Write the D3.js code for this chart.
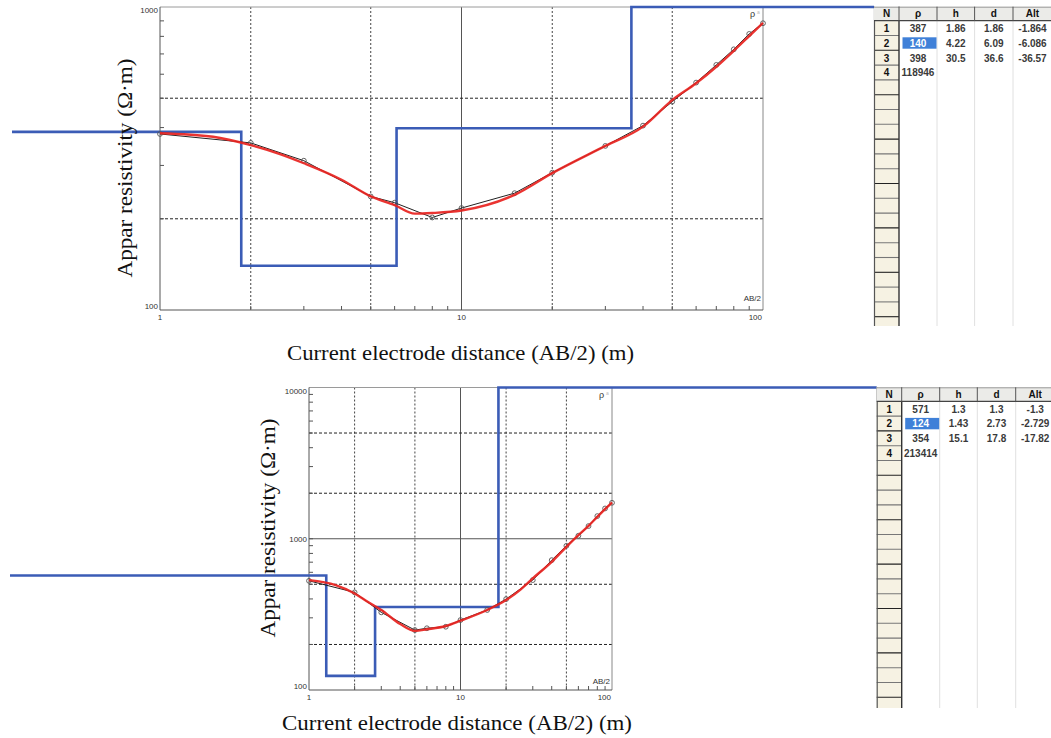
<!DOCTYPE html>
<html>
<head>
<meta charset="utf-8">
<script src="https://cdn.jsdelivr.net/npm/d3@7"></script>
<style>
  body { margin: 0; background: #fff; }
  svg { display: block; }
</style>
</head>
<body>
<div class="chart"></div>
<script>
// ---- data ----
const xTickValues = [1, 10, 100];
const xGridDashed = [2, 5, 20, 50];
const xGridSolid = [10];

// (a)
const aYTicks = [100, 1000];
const aYGridDashed = [200, 500];
const aYGridSolid = [];
const aObsAB  = [1, 2, 3, 5, 6, 8, 10, 15, 20, 30, 40, 50, 60, 70, 80, 90, 100];
const aObsRho = [381, 356, 311, 237, 226, 202, 217, 243, 284, 348, 406, 487, 563, 644, 725, 815, 884];
const aFitAB  = [1, 1.5, 2, 2.5, 3, 4, 5, 6, 7, 8, 10, 15, 20, 30, 40, 50, 60, 70, 80, 90, 100];
const aFitRho = [383, 373, 350, 327, 305, 269, 237, 222, 208, 209, 213, 240, 283, 348, 403, 493, 560, 635, 717, 802, 887];
const aRho = [387, 140, 398, 118946];
const aH   = [1.86, 4.22, 30.5];
const aD   = [1.86, 6.09, 36.6];
const aAlt = [-1.864, -6.086, -36.57];

// (b)
const bYTicks = [100, 1000, 10000];
const bYGridDashed = [200, 500, 2000, 5000];
const bYGridSolid = [1000];
const bObsAB  = [1, 2, 3, 5, 6, 8, 10, 15, 20, 30, 40, 50, 60, 70, 80, 90, 100];
const bObsRho = [527, 442, 326, 249, 256, 262, 290, 338, 399, 533, 722, 898, 1047, 1213, 1412, 1586, 1729];
const bFitAB  = [1, 1.5, 2, 2.5, 3, 4, 5, 6, 8, 10, 15, 20, 25, 30, 40, 50, 60, 70, 80, 90, 100];
const bFitRho = [533, 494, 435, 377, 338, 273, 246, 252, 265, 287, 338, 393, 463, 547, 704, 885, 1057, 1218, 1396, 1570, 1738];
const bRho = [571, 124, 354, 213414];
const bH   = [1.3, 1.43, 15.1];
const bD   = [1.3, 2.73, 17.8];
const bAlt = [-1.3, -2.729, -17.82];

const tableHeaders = ['N', 'ρ', 'h', 'd', 'Alt'];
const xTitle = 'Current electrode distance (AB/2) (m)';
const yTitle = 'Appar resistivity (Ω·m)';

const panels = [
  { tag: '(a)', yDomain: [100, 1000], yTicks: aYTicks, yDashed: aYGridDashed, yGridSolid: aYGridSolid,
    obsAB: aObsAB, obsRho: aObsRho, fitAB: aFitAB, fitRho: aFitRho,
    rho: aRho, h: aH, d: aD, alt: aAlt,
    left: 160, right: 763, top: 7, bottom: 310, blueStart: 12,
    tableX: 874, tableTop: 6.7, tableBottom: 326, abDy: 9,
    xTitleX: 460.5, xTitleY: 359.5, xTitleLen: 347,
    yTitleX: 131.5, yTitleY: 168, tagX: 1022, tagY: 300 },
  { tag: '(b)', yDomain: [100, 10000], yTicks: bYTicks, yDashed: bYGridDashed, yGridSolid: bYGridSolid,
    obsAB: bObsAB, obsRho: bObsRho, fitAB: bFitAB, fitRho: bFitRho,
    rho: bRho, h: bH, d: bD, alt: bAlt,
    left: 309, right: 612, top: 387.5, bottom: 690, blueStart: 10,
    tableX: 876.7, tableTop: 387.3, tableBottom: 708, abDy: 6,
    xTitleX: 457, xTitleY: 730, xTitleLen: 350,
    yTitleX: 275, yTitleY: 528, tagX: 1022.5, tagY: 690 }
];

const svg = d3.select('.chart').append('svg')
    .attr('width', 1051)
    .attr('height', 738);

svg.append('rect').attr('width', 1051).attr('height', 738).attr('fill', '#fff');

panels.forEach(p => drawPanel(p));

function drawPanel(p) {
  const g = svg.append('g');

  const x = d3.scaleLog().domain([1, 100]).range([p.left, p.right]);
  const y = d3.scaleLog().domain(p.yDomain).range([p.bottom, p.top]);
  const yc = y.copy().clamp(true);

  // grid
  g.selectAll('.vgrid').data(xGridDashed).enter().append('line')
    .attr('x1', d => x(d)).attr('x2', d => x(d))
    .attr('y1', p.top).attr('y2', p.bottom)
    .attr('stroke', '#444').attr('stroke-width', 1).attr('stroke-dasharray', '2,2');
  g.selectAll('.vsolid').data(xGridSolid).enter().append('line')
    .attr('x1', d => x(d)).attr('x2', d => x(d))
    .attr('y1', p.top).attr('y2', p.bottom)
    .attr('stroke', '#555').attr('stroke-width', 1);
  g.selectAll('.hgrid').data(p.yDashed).enter().append('line')
    .attr('x1', p.left).attr('x2', p.right)
    .attr('y1', d => y(d)).attr('y2', d => y(d))
    .attr('stroke', '#222').attr('stroke-width', 1).attr('stroke-dasharray', '3,2');
  g.selectAll('.hsolid').data(p.yGridSolid).enter().append('line')
    .attr('x1', p.left).attr('x2', p.right)
    .attr('y1', d => y(d)).attr('y2', d => y(d))
    .attr('stroke', '#555').attr('stroke-width', 1);

  // frame
  g.append('line').attr('x1', p.left).attr('x2', p.right).attr('y1', p.top).attr('y2', p.top)
    .attr('stroke', '#9a9a9a');
  g.append('line').attr('x1', p.right).attr('x2', p.right).attr('y1', p.top).attr('y2', p.bottom)
    .attr('stroke', '#888');
  g.append('line').attr('x1', p.left).attr('x2', p.left).attr('y1', p.top).attr('y2', p.bottom)
    .attr('stroke', '#555');
  g.append('line').attr('x1', p.left).attr('x2', p.right).attr('y1', p.bottom).attr('y2', p.bottom)
    .attr('stroke', '#555');

  // minor ticks (inside)
  const xMinor = x.ticks().filter(v => v > 1 && v < 100);
  g.selectAll('.xt').data(xMinor).enter().append('line')
    .attr('x1', d => x(d)).attr('x2', d => x(d))
    .attr('y1', p.bottom).attr('y2', p.bottom - 4)
    .attr('stroke', '#555');
  const yMinor = y.ticks().filter(v => v > p.yDomain[0] && v < p.yDomain[1]);
  g.selectAll('.yt').data(yMinor).enter().append('line')
    .attr('x1', p.left).attr('x2', p.left + 4)
    .attr('y1', d => y(d)).attr('y2', d => y(d))
    .attr('stroke', '#555');

  // tick labels
  g.selectAll('.xl').data(xTickValues).enter().append('text')
    .attr('x', d => d === 100 ? p.right - 1 : x(d))
    .attr('y', p.bottom + 9.5)
    .attr('text-anchor', d => d === 100 ? 'end' : 'middle')
    .attr('font-family', 'Liberation Sans, Arial, sans-serif')
    .attr('font-size', 8).attr('fill', '#333')
    .text(d => d);
  g.selectAll('.yl').data(p.yTicks).enter().append('text')
    .attr('x', p.left - 2)
    .attr('y', d => y(d) + (d === p.yDomain[1] ? 6 : d === p.yDomain[0] ? -1.5 : 2.8))
    .attr('text-anchor', 'end')
    .attr('font-family', 'Liberation Sans, Arial, sans-serif')
    .attr('font-size', 8).attr('fill', '#333')
    .text(d => d);

  g.append('text').attr('x', p.right - 2).attr('y', p.bottom - p.abDy)
    .attr('text-anchor', 'end')
    .attr('font-family', 'Liberation Sans, Arial, sans-serif')
    .attr('font-size', 8).attr('fill', '#333').text('AB/2');
  g.append('text').attr('x', p.right - 10.5).attr('y', p.top + 10)
    .attr('text-anchor', 'middle')
    .attr('font-family', 'Liberation Sans, Arial, sans-serif')
    .attr('font-size', 9).attr('fill', '#333').text('ρ');
  g.append('text').attr('x', p.right - 6).attr('y', p.top + 7)
    .attr('font-family', 'Liberation Sans, Arial, sans-serif')
    .attr('font-size', 5).attr('fill', '#bbb').text('a');

  // layered model (blue)
  const pts = [[p.blueStart, yc(p.rho[0])]];
  p.d.forEach((dep, i) => {
    pts.push([x(dep), yc(p.rho[i])]);
    pts.push([x(dep), yc(p.rho[i + 1])]);
  });
  pts.push([p.tableX, yc(p.rho[p.rho.length - 1])]);
  g.append('path').attr('d', d3.line()(pts))
    .attr('fill', 'none').attr('stroke', '#3b5cb6').attr('stroke-width', 2.6);

  // observed data
  const obs = p.obsAB.map((v, i) => [v, p.obsRho[i]]);
  g.append('path').datum(obs)
    .attr('d', d3.line().x(d => x(d[0])).y(d => y(d[1])))
    .attr('fill', 'none').attr('stroke', '#222').attr('stroke-width', 1);
  g.selectAll('.obs').data(obs).enter().append('circle')
    .attr('cx', d => x(d[0])).attr('cy', d => y(d[1])).attr('r', 2.4)
    .attr('fill', 'none').attr('stroke', '#555').attr('stroke-width', 0.9);

  // fitted curve (red)
  const fit = p.fitAB.map((v, i) => [v, p.fitRho[i]]);
  g.append('path').datum(fit)
    .attr('d', d3.line().x(d => x(d[0])).y(d => y(d[1])).curve(d3.curveMonotoneX))
    .attr('fill', 'none').attr('stroke', '#e8231f').attr('stroke-width', 2.4)
    .attr('stroke-opacity', 0.92);

  // axis titles
  g.append('text').attr('x', p.xTitleX).attr('y', p.xTitleY)
    .attr('text-anchor', 'middle')
    .attr('font-family', 'Liberation Serif, Times New Roman, serif')
    .attr('font-size', 21.5).attr('fill', '#111')
    .attr('textLength', p.xTitleLen).attr('lengthAdjust', 'spacingAndGlyphs')
    .text(xTitle);
  g.append('text')
    .attr('transform', `translate(${p.yTitleX},${p.yTitleY}) rotate(-90)`)
    .attr('text-anchor', 'middle')
    .attr('font-family', 'Liberation Serif, Times New Roman, serif')
    .attr('font-size', 21.5).attr('fill', '#111')
    .attr('textLength', 219).attr('lengthAdjust', 'spacingAndGlyphs')
    .text(yTitle);

  drawTable(p);

  g.append('text').attr('x', p.tagX).attr('y', p.tagY)
    .attr('text-anchor', 'middle')
    .attr('font-family', 'Liberation Serif, Times New Roman, serif')
    .attr('font-size', 20).attr('fill', '#111').text(p.tag);
}

function drawTable(p) {
  const t = svg.append('g');
  const colW = [25, 38, 37.6, 38.4, 60];
  const colX = [p.tableX];
  colW.forEach((w, i) => colX.push(colX[i] + w));
  const headH = 14;
  const rowH = 14.8;
  const bodyTop = p.tableTop + headH;
  const nRows = Math.floor((p.tableBottom - bodyTop) / rowH) + 1;
  const rowIdx = d3.range(nRows);
  const right = 1051;
  const font = 'Liberation Sans, Arial, sans-serif';

  const clipId = 'clip' + p.tag.replace(/\W/g, '');
  t.append('clipPath').attr('id', clipId).append('rect')
    .attr('x', p.tableX - 1).attr('y', p.tableTop - 1)
    .attr('width', right - p.tableX + 2).attr('height', p.tableBottom - p.tableTop + 1);
  const c = t.append('g').attr('clip-path', `url(#${clipId})`);

  // body
  c.append('rect').attr('x', colX[1]).attr('y', bodyTop)
    .attr('width', right - colX[1]).attr('height', p.tableBottom - bodyTop).attr('fill', '#fff');
  c.selectAll('.sep').data(colX.slice(2, 5)).enter().append('line')
    .attr('x1', d => d).attr('x2', d => d).attr('y1', bodyTop).attr('y2', p.tableBottom)
    .attr('stroke', '#e0e0e0').attr('stroke-width', 1);

  // N column
  c.append('rect').attr('x', colX[0]).attr('y', bodyTop)
    .attr('width', colW[0]).attr('height', p.tableBottom - bodyTop)
    .attr('fill', '#f6f2e3');
  c.selectAll('.nrow').data(rowIdx).enter().append('line')
    .attr('x1', colX[0]).attr('x2', colX[1])
    .attr('y1', d => bodyTop + (d + 1) * rowH).attr('y2', d => bodyTop + (d + 1) * rowH)
    .attr('stroke', d => d % 3 === 1 ? '#222' : '#777').attr('stroke-width', 1.1);
  c.append('line').attr('x1', colX[0] + 0.5).attr('x2', colX[0] + 0.5)
    .attr('y1', p.tableTop).attr('y2', p.tableBottom).attr('stroke', '#555').attr('stroke-width', 1.2);
  c.append('line').attr('x1', colX[1]).attr('x2', colX[1])
    .attr('y1', p.tableTop).attr('y2', p.tableBottom).attr('stroke', '#333').attr('stroke-width', 1.4);

  // header
  c.append('rect').attr('x', colX[0]).attr('y', p.tableTop)
    .attr('width', right - colX[0]).attr('height', headH).attr('fill', '#ebebe8');
  c.append('line').attr('x1', colX[0]).attr('x2', right)
    .attr('y1', p.tableTop + 0.5).attr('y2', p.tableTop + 0.5).attr('stroke', '#999');
  c.append('line').attr('x1', colX[0]).attr('x2', right)
    .attr('y1', bodyTop).attr('y2', bodyTop).attr('stroke', '#444').attr('stroke-width', 1.2);
  c.selectAll('.hsep').data(colX.slice(1, 5)).enter().append('line')
    .attr('x1', d => d).attr('x2', d => d).attr('y1', p.tableTop).attr('y2', bodyTop)
    .attr('stroke', '#555');
  c.selectAll('.htext').data(tableHeaders).enter().append('text')
    .attr('x', (d, i) => i === 4 ? colX[4] + 19.5 : colX[i] + colW[i] / 2)
    .attr('y', p.tableTop + 10.6)
    .attr('text-anchor', 'middle')
    .attr('font-family', font).attr('font-size', 10).attr('font-weight', 'bold')
    .attr('fill', '#111').text(d => d);

  // rows
  const rows = p.rho.map((r, i) => [i + 1, r,
    i < p.h.length ? p.h[i] : '', i < p.d.length ? p.d[i] : '', i < p.alt.length ? p.alt[i] : '']);

  // selected cell
  c.append('rect').attr('x', colX[1] + 3.5).attr('y', bodyTop + rowH + 1.8)
    .attr('width', colW[1] - 4).attr('height', rowH - 3.4).attr('fill', '#3f80d8');

  rows.forEach((row, r) => {
    row.forEach((v, k) => {
      c.append('text')
        .attr('x', k === 4 ? colX[4] + 19.5 : colX[k] + colW[k] / 2)
        .attr('y', bodyTop + r * rowH + 11.3)
        .attr('text-anchor', 'middle')
        .attr('font-family', font).attr('font-size', 10).attr('font-weight', 'bold')
        .attr('fill', (r === 1 && k === 1) ? '#fff' : (k === 0 ? '#111' : '#3a3a3a'))
        .text(String(v));
    });
  });
}
</script>
</body>
</html>
